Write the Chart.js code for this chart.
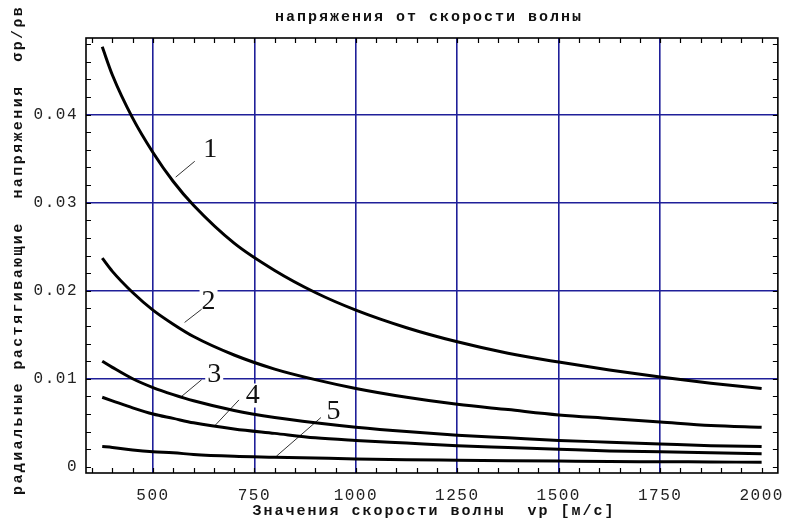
<!DOCTYPE html>
<html>
<head>
<meta charset="utf-8">
<script src="https://cdn.jsdelivr.net/npm/chart.js@4.4.1/dist/chart.umd.min.js"></script>
<style>
  html, body { margin: 0; padding: 0; background: #fff; }
  #wrap { width: 794px; height: 519px; }
</style>
</head>
<body>
<div id="wrap"><canvas id="stressChart" width="794" height="519"></canvas></div>
<script>
// values
const speeds = [375, 400, 450, 500, 550, 600, 700, 800, 900, 1000, 1125, 1250, 1375, 1500, 1625, 1750, 1875, 2000];
const curve1 = [0.0477, 0.0445, 0.0396, 0.0357, 0.0324, 0.0297, 0.0254, 0.0223, 0.0198, 0.0178, 0.0158, 0.0142, 0.0129, 0.0119, 0.0110, 0.0102, 0.0095, 0.0089];
const curve2 = [0.0237, 0.0222, 0.0198, 0.0178, 0.0162, 0.0148, 0.0127, 0.0111, 0.0099, 0.0089, 0.0079, 0.0071, 0.0065, 0.0059, 0.0055, 0.0051, 0.0047, 0.0045];
const curve3 = [0.0120, 0.0113, 0.0100, 0.0090, 0.0082, 0.0075, 0.0064, 0.0056, 0.0050, 0.0045, 0.0040, 0.0036, 0.0033, 0.0030, 0.0028, 0.0026, 0.0024, 0.0023];
const curve4 = [0.0079, 0.0075, 0.0067, 0.0060, 0.0055, 0.0050, 0.0043, 0.0038, 0.0033, 0.0030, 0.0027, 0.0024, 0.0022, 0.0020, 0.0018, 0.0017, 0.0016, 0.0015];
const curve5 = [0.0023, 0.0022, 0.0019, 0.0017, 0.0016, 0.0014, 0.0012, 0.0011, 0.0010, 0.0009, 0.0008, 0.00075, 0.0007, 0.00065, 0.0006, 0.00058, 0.00055, 0.00052];
const curveNames = ['1', '2', '3', '4', '5'];

const xTicks = [500, 750, 1000, 1250, 1500, 1750, 2000];
const xGrid = [500, 750, 1000, 1250, 1500, 1750];
const yTicks = [0, 0.01, 0.02, 0.03, 0.04];
const yTickLabels = ['0', '0.01', '0.02', '0.03', '0.04'];
const yGrid = [0.01, 0.02, 0.03, 0.04];

// where the curve numbers and their leader lines sit (data units)
const labelSpots = [
  { text: '1', at: [641, 0.0360], from: [556, 0.0329], to: [603, 0.0347] },
  { text: '2', at: [637, 0.0188], from: [578, 0.0164], to: [620, 0.0179] },
  { text: '3', at: [651, 0.0105], from: [568, 0.0079], to: [620, 0.0099] },
  { text: '4', at: [746, 0.0081], from: [651, 0.0046], to: [712, 0.0076] },
  { text: '5', at: [945, 0.0063], from: [804, 0.0012], to: [914, 0.0056] }
];

const titleText = 'напряжения от скорости волны';
const xTitle = 'Значения скорости волны  vр [м/с]';
const yTitle = 'радиальные растягивающие  напряжения  σр/ρв';

const gridBlue = '#1f1f99';
const monoFont = '"Liberation Mono", "DejaVu Sans Mono", monospace';

const toPoints = arr => speeds.map((v, i) => ({ x: v, y: arr[i] }));
const allCurves = [curve1, curve2, curve3, curve4, curve5];

// wider spacing for the tick labels, like the old bitmap font
const spacing = {
  id: 'spacing',
  beforeDraw(chart) { chart.ctx.letterSpacing = '1.5px'; }
};

// number labels go under the curves, frame and ticks on top
const curveLabels = {
  id: 'curveLabels',
  beforeDatasetsDraw(chart) {
    const { ctx, scales: { x, y } } = chart;
    ctx.save();
    ctx.letterSpacing = '0px';
    ctx.font = '28px "Liberation Serif", "DejaVu Serif", serif';
    ctx.textAlign = 'center';
    ctx.textBaseline = 'middle';
    labelSpots.forEach(s => {
      const px = x.getPixelForValue(s.at[0]);
      const py = y.getPixelForValue(s.at[1]);
      ctx.fillStyle = '#fff';
      ctx.fillRect(px - 9, py - 12, 18, 24);
      ctx.fillStyle = '#111';
      ctx.fillText(s.text, px, py);
      ctx.strokeStyle = '#333';
      ctx.lineWidth = 1;
      ctx.beginPath();
      ctx.moveTo(x.getPixelForValue(s.from[0]), y.getPixelForValue(s.from[1]));
      ctx.lineTo(x.getPixelForValue(s.to[0]), y.getPixelForValue(s.to[1]));
      ctx.stroke();
    });
    ctx.restore();
  }
};

const frameTicks = {
  id: 'frameTicks',
  afterDatasetsDraw(chart) {
    const { ctx, chartArea: a, scales: { x, y } } = chart;
    ctx.save();
    ctx.strokeStyle = '#000';
    ctx.lineWidth = 1.2;
    ctx.beginPath();
    for (let v = 350; v <= 2000; v += 50) {
      const px = Math.round(x.getPixelForValue(v)) + 0.5;
      ctx.moveTo(px, a.bottom); ctx.lineTo(px, a.bottom - 5);
      ctx.moveTo(px, a.top); ctx.lineTo(px, a.top + 5);
    }
    for (let i = 0; i <= 24; i++) {
      const py = Math.round(y.getPixelForValue(i * 0.002)) + 0.5;
      ctx.moveTo(a.left, py); ctx.lineTo(a.left + 5, py);
      ctx.moveTo(a.right, py); ctx.lineTo(a.right - 5, py);
    }
    ctx.stroke();
    ctx.lineWidth = 1.6;
    ctx.strokeRect(a.left, a.top, a.right - a.left, a.bottom - a.top);
    ctx.restore();
  },
  afterDraw(chart) {
    const { ctx } = chart;
    ctx.save();
    ctx.fillStyle = '#111';
    ctx.font = 'bold 15px ' + monoFont;
    ctx.letterSpacing = '2px';
    ctx.textBaseline = 'middle';
    ctx.textAlign = 'center';
    ctx.fillText(titleText, 429, 17);
    ctx.fillText(xTitle, 434, 511);
    ctx.translate(18, 495);
    ctx.rotate(-Math.PI / 2);
    ctx.textAlign = 'left';
    ctx.letterSpacing = '2.4px';
    ctx.fillText(yTitle, 0, 0);
    ctx.restore();
  }
};

new Chart(document.getElementById('stressChart'), {
  type: 'line',
  data: {
    datasets: allCurves.map((c, i) => ({
      label: curveNames[i],
      data: toPoints(c),
      borderColor: '#000',
      borderWidth: 3,
      pointRadius: 0,
      cubicInterpolationMode: 'monotone',
      fill: false
    }))
  },
  options: {
    responsive: false,
    animation: false,
    devicePixelRatio: 1,
    layout: { padding: { top: 38, right: 7, left: 0, bottom: 0 } },
    plugins: {
      legend: { display: false },
      tooltip: { enabled: false }
    },
    scales: {
      x: {
        type: 'linear',
        min: 335,
        max: 2040,
        afterBuildTicks: s => { s.ticks = xTicks.map(v => ({ value: v })); },
        afterFit: s => { s.height = 46; },
        border: { display: false },
        grid: {
          drawTicks: false,
          lineWidth: 1.6,
          color: c => xGrid.includes(c.tick && c.tick.value) ? gridBlue : 'rgba(0,0,0,0)'
        },
        ticks: {
          padding: 13,
          color: '#222',
          maxRotation: 0,
          font: { family: monoFont, size: 16 },
          callback: v => String(v)
        }
      },
      y: {
        min: -0.0007,
        max: 0.0487,
        afterBuildTicks: s => { s.ticks = yTicks.map(v => ({ value: v })); },
        afterFit: s => { s.width = 86; },
        border: { display: false },
        grid: {
          drawTicks: false,
          lineWidth: 1.6,
          color: c => yGrid.includes(c.tick && c.tick.value) ? gridBlue : 'rgba(0,0,0,0)'
        },
        ticks: {
          padding: 8,
          color: '#222',
          font: { family: monoFont, size: 16 },
          callback: (v, i) => yTickLabels[i]
        }
      }
    }
  },
  plugins: [spacing, curveLabels, frameTicks]
});
</script>
</body>
</html>
